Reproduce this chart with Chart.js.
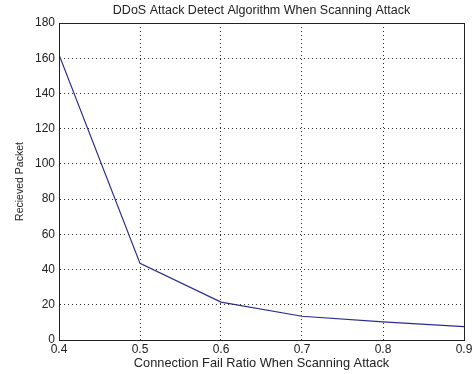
<!DOCTYPE html>
<html>
<head>
<meta charset="utf-8">
<script src="https://cdn.jsdelivr.net/npm/chart.js@4"></script>
<style>
  html, body { margin: 0; padding: 0; background: #fff; }
  #wrap { width: 476px; height: 374px; }
</style>
</head>
<body>
<div id="wrap"><canvas id="chart"></canvas></div>
<script>
// data
const failRatio = [0.4, 0.5, 0.6, 0.7, 0.8, 0.9];
const receivedPacket = [162, 43.5, 21.5, 13.5, 10.3, 7.6];
const xTicks = [0.4, 0.5, 0.6, 0.7, 0.8, 0.9];
const yTicks = [0, 20, 40, 60, 80, 100, 120, 140, 160, 180];
const chartTitle = 'DDoS Attack Detect Algorithm When Scanning Attack';

const FONT = 'Liberation Sans, Arial, sans-serif';

// MATLAB style box round the axes, title centred over the axes
const boxPlugin = {
    id: 'box',
    afterDraw(chart) {
        const { ctx, chartArea: a } = chart;
        ctx.save();
        ctx.strokeStyle = '#222';
        ctx.lineWidth = 1;
        ctx.strokeRect(Math.round(a.left) + 0.5, Math.round(a.top) + 0.5,
            Math.round(a.right - a.left), Math.round(a.bottom - a.top));
        ctx.fillStyle = '#222';
        ctx.font = '12.5px ' + FONT;
        ctx.textAlign = 'center';
        ctx.textBaseline = 'middle';
        ctx.fillText(chartTitle, (a.left + a.right) / 2, 11);
        ctx.restore();
    }
};

const gridColor = (ctx) => {
    const v = ctx.tick ? ctx.tick.value : null;
    const s = ctx.scale;
    if (v === s.min || v === s.max) return 'rgba(0,0,0,0)';
    return '#333';
};

new Chart(document.getElementById('chart'), {
    type: 'line',
    data: {
        datasets: [{
            data: failRatio.map((x, i) => ({ x: x, y: receivedPacket[i] })),
            borderColor: '#2b2b8c',
            borderWidth: 1.2,
            pointRadius: 0,
            fill: false,
            tension: 0
        }]
    },
    options: {
        responsive: true,
        maintainAspectRatio: false,
        animation: false,
        layout: { padding: { left: 0, right: 12, top: 23, bottom: 0 } },
        plugins: {
            legend: { display: false },
            tooltip: { enabled: false },
            title: { display: false }
        },
        scales: {
            x: {
                type: 'linear',
                min: 0.4,
                max: 0.9,
                afterBuildTicks: (s) => { s.ticks = xTicks.map(v => ({ value: v })); },
                ticks: {
                    color: '#222',
                    font: { family: FONT, size: 12 },
                    padding: 2,
                    maxRotation: 0,
                    callback: (v) => Number(v).toFixed(1)
                },
                grid: { color: gridColor, lineWidth: 1, drawTicks: false, tickLength: 0 },
                border: { display: true, color: '#222', dash: [1, 3] },
                title: {
                    display: true,
                    text: 'Connection Fail Ratio When Scanning Attack',
                    color: '#222',
                    font: { family: FONT, size: 12.8 },
                    padding: { top: 0, bottom: 3 }
                },
                afterFit: (s) => { s.height = 34; }
            },
            y: {
                min: 0,
                max: 180,
                afterBuildTicks: (s) => { s.ticks = yTicks.map(v => ({ value: v })); },
                ticks: {
                    color: '#222',
                    font: { family: FONT, size: 12 },
                    padding: 4
                },
                grid: { color: gridColor, lineWidth: 1, drawTicks: false, tickLength: 0 },
                border: { display: true, color: '#222', dash: [1, 3] },
                title: {
                    display: true,
                    text: 'Recieved Packet',
                    color: '#222',
                    font: { family: FONT, size: 10.5 },
                    padding: { top: 14, bottom: 0 }
                },
                afterFit: (s) => { s.width = 59; }
            }
        }
    },
    plugins: [boxPlugin]
});
</script>
</body>
</html>
